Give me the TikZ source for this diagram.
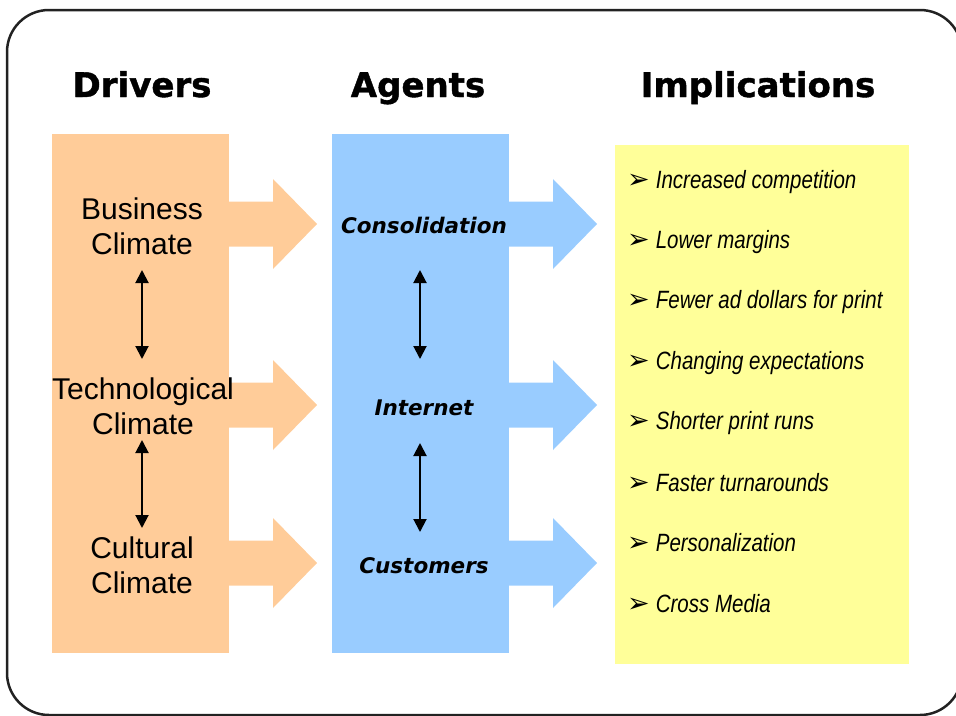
\documentclass[tikz,border=0pt]{standalone}
\usepackage{fontspec}
\setmainfont{Liberation Sans}
\newfontfamily\titlefont{DejaVu Sans}
\newfontfamily\heavyfont[BoldFeatures={FakeBold=1.2}]{DejaVu Sans}
\newfontfamily\narrowfont[FakeStretch=0.82]{Liberation Sans}
\newfontfamily\symfont{DejaVu Sans}
\usetikzlibrary{arrows.meta}
\definecolor{orangefill}{HTML}{FFCC99}
\definecolor{bluefill}{HTML}{99CCFF}
\definecolor{yellowfill}{HTML}{FFFF99}
\definecolor{frameline}{HTML}{222222}
\newcommand{\bul}{{\symfont\fontsize{27}{28}\selectfont ➢}\hspace{6pt}}
\begin{document}
\begin{tikzpicture}[x=1pt,y=-1pt,
  column/.style={draw=none,inner sep=0pt,anchor=north west},
  title/.style={font=\heavyfont\bfseries\fontsize{34}{40}\selectfont,anchor=base,inner sep=0pt},
  driver/.style={font=\fontsize{30}{35}\selectfont,align=center,inner sep=0pt},
  agent/.style={font=\titlefont\bfseries\itshape\fontsize{21.5}{26}\selectfont,inner sep=0pt,anchor=base},
  item/.style={font=\narrowfont\itshape\fontsize{25}{30}\selectfont,anchor=west,inner sep=0pt},
  dblarrow/.style={line width=2pt,{Triangle[width=13pt,length=13pt]}-{Triangle[width=13pt,length=13pt]}}
]
\useasboundingbox (0,0) rectangle (956,715);
% frame
\draw[frameline,line width=2.5pt,rounded corners=42pt] (7,10) rectangle (962,715);
% columns
\node[column,fill=orangefill,minimum width=177pt,minimum height=519pt] (drv) at (52,134) {};
\node[column,fill=bluefill,minimum width=177pt,minimum height=519pt] (agt) at (332,134) {};
\node[column,fill=yellowfill,minimum width=294pt,minimum height=519pt] (imp) at (615,145) {};
% block arrows
\foreach \cy in {224,405,563}{
  \fill[orangefill] (226,\cy-22.5) -- (273,\cy-22.5) -- (273,\cy-45) -- (317,\cy) -- (273,\cy+45) -- (273,\cy+22.5) -- (226,\cy+22.5) -- cycle;
  \fill[bluefill] (506,\cy-22.5) -- (553,\cy-22.5) -- (553,\cy-45) -- (597,\cy) -- (553,\cy+45) -- (553,\cy+22.5) -- (506,\cy+22.5) -- cycle;
}
% titles
\node[title] (tdrv) at (142,97) {Drivers};
\node[title] (tagt) at (418,97) {Agents};
\node[title] (timp) at (758,97) {Implications};
% drivers
\node[driver] (bus) at (142,226) {Business\\Climate};
\node[driver] (tech) at (143,406) {Technological\\Climate};
\node[driver] (cult) at (142,565) {Cultural\\Climate};
% agents
\node[agent] (cons) at (424,233) {Consolidation};
\node[agent] (inet) at (424,415) {Internet};
\node[agent] (cust) at (424,573) {Customers};
% double arrows
\coordinate (d1a) at (142,270); \coordinate (d1b) at (142,359);
\coordinate (d2a) at (142,440); \coordinate (d2b) at (142,528);
\coordinate (a1a) at (420,270); \coordinate (a1b) at (420,359);
\coordinate (a2a) at (420,443); \coordinate (a2b) at (420,532);
\draw[dblarrow] (d1a) -- (d1b);
\draw[dblarrow] (d2a) -- (d2b);
\draw[dblarrow] (a1a) -- (a1b);
\draw[dblarrow] (a2a) -- (a2b);
% implications
\node[item] (i1) at (627,182) {\bul Increased competition};
\node[item] (i2) at (627,242) {\bul Lower margins};
\node[item] (i3) at (627,302) {\bul Fewer ad dollars for print};
\node[item] (i4) at (627,363) {\bul Changing expectations};
\node[item] (i5) at (627,423) {\bul Shorter print runs};
\node[item] (i6) at (627,483) {\bul Faster turnarounds};
\node[item] (i7) at (627,543) {\bul Personalization};
\node[item] (i8) at (627,604) {\bul Cross Media};
\end{tikzpicture}
\end{document}
